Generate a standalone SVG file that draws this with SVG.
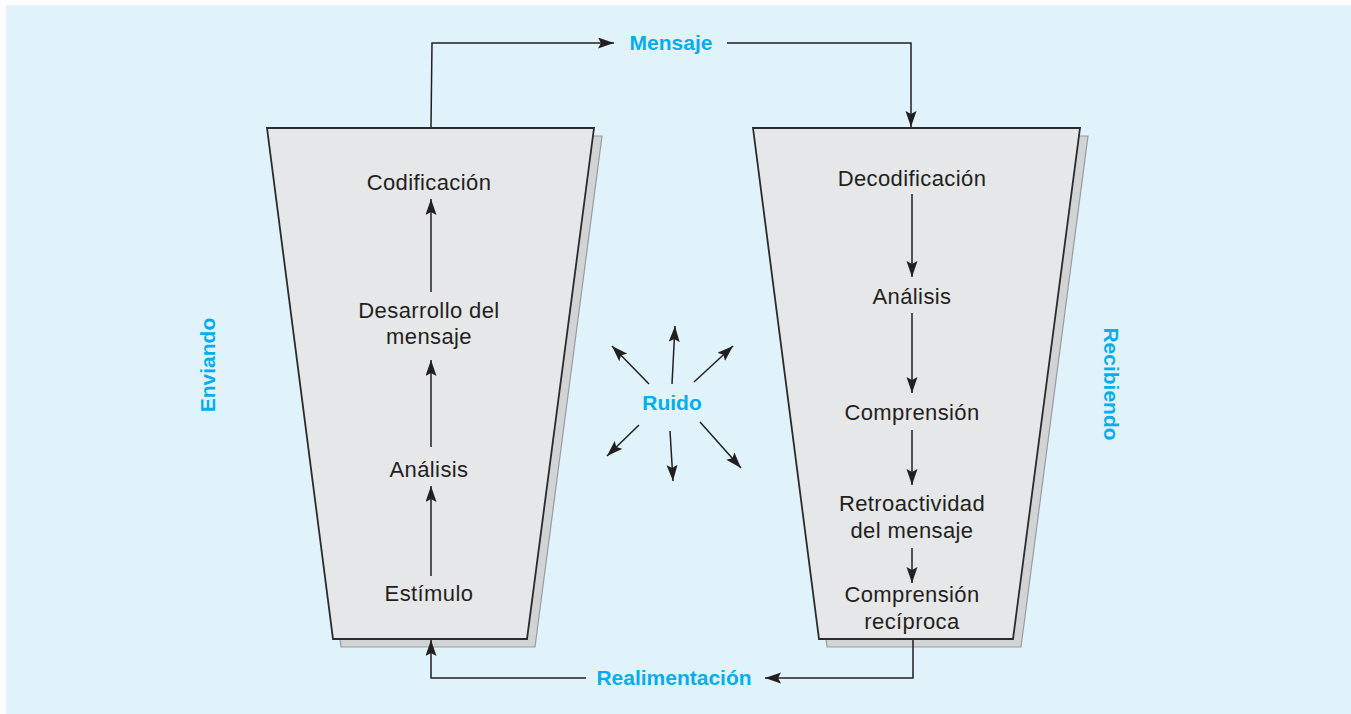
<svg xmlns="http://www.w3.org/2000/svg" width="1351" height="714" viewBox="0 0 1351 714">
<style>
.bg{fill:#e0f3fb}
.shadow{fill:#d1d3d4;stroke:#9a9b9d;stroke-width:1.2}
.box{fill:#e6e7e8;stroke:#2b2b2b;stroke-width:1.8}
.t{font-family:"Liberation Sans",Arial,sans-serif;font-size:22px;letter-spacing:0.4px;fill:#231f20;text-anchor:middle}
.b{font-family:"Liberation Sans",Arial,sans-serif;font-size:21px;font-weight:bold;fill:#00aeef;text-anchor:middle}
.c{fill:none;stroke:#231f20;stroke-width:1.5;marker-end:url(#ah)}
</style>
<defs>
<marker id="ah" markerUnits="userSpaceOnUse" markerWidth="17" markerHeight="12" refX="16" refY="5.5" orient="auto">
<path d="M0,0 L16,5.5 L0,11 L3,5.5 z" fill="#231f20"/>
</marker>
</defs>
<rect class="bg" x="6" y="5" width="1345" height="709"/>
<g id="sending">
<polygon class="shadow" points="275,136 602,136 535,647 341,647"/>
<polygon class="box" points="267,128 594,128 527,639 333,639"/>
<text class="t" x="429" y="190">Codificación</text>
<text class="t" x="429" y="318">Desarrollo del</text>
<text class="t" x="429" y="344">mensaje</text>
<text class="t" x="429" y="477">Análisis</text>
<text class="t" x="429" y="601">Estímulo</text>
</g>
<g id="receiving">
<polygon class="shadow" points="761,136 1088,136 1021,647 827,647"/>
<polygon class="box" points="753,128 1080,128 1013,639 819,639"/>
<text class="t" x="912" y="186">Decodificación</text>
<text class="t" x="912" y="304">Análisis</text>
<text class="t" x="912" y="420">Comprensión</text>
<text class="t" x="912" y="511">Retroactividad</text>
<text class="t" x="912" y="538">del mensaje</text>
<text class="t" x="912" y="602">Comprensión</text>
<text class="t" x="912" y="629">recíproca</text>
</g>
<g id="labels">
<text class="b" x="671" y="50">Mensaje</text>
<text class="b" x="674" y="685">Realimentación</text>
<text class="b" x="672" y="410">Ruido</text>
<text class="b" transform="translate(215,365) rotate(-90)">Enviando</text>
<text class="b" transform="translate(1104,384) rotate(90)">Recibiendo</text>
</g>
<g id="connectors">
<line class="c" x1="431" y1="576" x2="431" y2="486"/>
<line class="c" x1="431" y1="447" x2="431" y2="360"/>
<line class="c" x1="431" y1="292" x2="431" y2="199"/>
<line class="c" x1="912" y1="194" x2="912" y2="277"/>
<line class="c" x1="912" y1="313" x2="912" y2="393"/>
<line class="c" x1="912" y1="430" x2="912" y2="485"/>
<line class="c" x1="912" y1="548" x2="912" y2="583"/>
<polyline class="c" points="431,127 432,43 614,43"/>
<polyline class="c" points="727,43 911,43 911,127"/>
<polyline class="c" points="913,640 913,678 765,678"/>
<polyline class="c" points="586,678 431,678 431,640"/>
<line class="c" x1="649" y1="384" x2="612" y2="346"/>
<line class="c" x1="672" y1="384" x2="675" y2="326"/>
<line class="c" x1="694" y1="382" x2="733" y2="346"/>
<line class="c" x1="639" y1="425" x2="607" y2="456"/>
<line class="c" x1="670" y1="431" x2="673" y2="481"/>
<line class="c" x1="700" y1="422" x2="741" y2="468"/>
</g>
</svg>
